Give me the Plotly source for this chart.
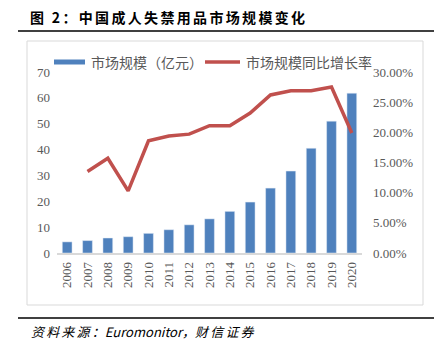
import plotly.graph_objects as go

years = ["2006", "2007", "2008", "2009", "2010", "2011", "2012", "2013", "2014",
         "2015", "2016", "2017", "2018", "2019", "2020"]
market_size = [4.3, 4.8, 5.8, 6.3, 7.6, 9.0, 10.9, 13.2, 16.1, 19.7, 25.1, 31.7, 40.5, 51.0, 61.8]
growth_years = years[1:]
growth_rate = [0.135, 0.157, 0.103, 0.186, 0.194, 0.197, 0.211, 0.211, 0.232, 0.262, 0.269,
               0.269, 0.275, 0.199]

left_ticks = [0, 10, 20, 30, 40, 50, 60, 70]
right_ticks = [0, 0.05, 0.10, 0.15, 0.20, 0.25, 0.30]

W, H = 434, 353
L, R, T, B = 57, 362, 72, 253


def px(x):
    return (x - L) / (R - L)


def py(y):
    return (B - y) / (B - T)


def spaced(s, sep="\u2006"):
    return sep.join(list(s))


fig = go.Figure()
fig.add_trace(go.Bar(x=years, y=market_size, marker_color="#4F81BD",
                     name="市场规模（亿元）", showlegend=False))
fig.add_trace(go.Scatter(x=growth_years, y=growth_rate, yaxis="y2", mode="lines",
                         line=dict(color="#C0504D", width=3.5),
                         name="市场规模同比增长率", showlegend=False))

tick_font = dict(family="Liberation Serif", size=13, color="#595959")
cjk = "Noto Sans CJK SC"

fig.update_layout(
    width=W, height=H,
    margin=dict(l=L, r=W - R, t=T, b=H - B),
    paper_bgcolor="white", plot_bgcolor="white",
    bargap=0.52,
    xaxis=dict(type="category", tickangle=-90, tickfont=tick_font, showgrid=False,
               showline=True, linecolor="#D9D9D9", linewidth=1.5, ticks="",
               ticklabelstandoff=2),
    yaxis=dict(range=[0, 70], tickvals=left_ticks, tickfont=tick_font, showgrid=False,
               zeroline=False, showline=False, ticks="", ticklabelstandoff=6),
    yaxis2=dict(range=[0, 0.30], tickvals=right_ticks, tickformat=".2%", tickfont=tick_font,
                overlaying="y", side="right", showgrid=False, zeroline=False,
                showline=False, ticks="", ticklabelstandoff=10),
    showlegend=False,
)

shapes = [
    dict(type="line", xref="paper", yref="paper", x0=px(18), x1=px(434), y0=py(31), y1=py(31),
         line=dict(color="black", width=1.5)),
    dict(type="rect", xref="paper", yref="paper", x0=px(27), x1=px(423), y0=py(41), y1=py(305),
         line=dict(color="#D9D9D9", width=1)),
    dict(type="line", xref="paper", yref="paper", x0=px(18), x1=px(434), y0=py(318), y1=py(318),
         line=dict(color="black", width=1.5)),
    dict(type="rect", xref="paper", yref="paper", x0=px(54), x1=px(85), y0=py(59.5), y1=py(64.5),
         line=dict(width=0), fillcolor="#4F81BD"),
    dict(type="line", xref="paper", yref="paper", x0=px(205), x1=px(240), y0=py(62), y1=py(62),
         line=dict(color="#C0504D", width=3.5)),
]

title_txt = "图 2：" + "中国成人失禁用品市场规模变化"
annotations = [
    dict(text="<b>" + spaced(title_txt) + "</b>", xref="paper", yref="paper",
         x=px(28), y=py(17), xanchor="left", yanchor="middle", showarrow=False,
         font=dict(family=cjk, size=14, color="black")),
    dict(text="市场规模（亿元）", xref="paper", yref="paper", x=px(89), y=py(62),
         xanchor="left", yanchor="middle", showarrow=False,
         font=dict(family=cjk, size=14, color="#595959")),
    dict(text="市场规模同比增长率", xref="paper", yref="paper", x=px(244), y=py(62),
         xanchor="left", yanchor="middle", showarrow=False,
         font=dict(family=cjk, size=14, color="#595959")),
    dict(text="<i>" + spaced("资料来源：") + "Euromonitor，" + spaced("财信证券") + "</i>",
         xref="paper", yref="paper",
         x=px(29), y=py(331), xanchor="left", yanchor="middle", showarrow=False,
         font=dict(family=cjk, size=13, color="black")),
]

fig.update_layout(shapes=shapes, annotations=annotations)
fig.write_html("out.html")
